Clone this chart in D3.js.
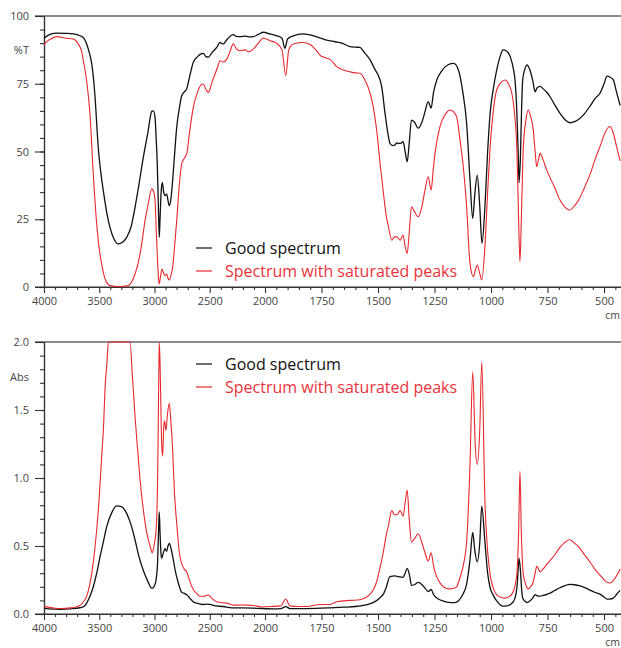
<!DOCTYPE html>
<html>
<head>
<meta charset="utf-8">
<script src="https://cdn.jsdelivr.net/npm/d3@7"></script>
<style>
  body { margin: 0; background: #fff; }
  svg text { font-family: "Open Sans", "Noto Sans", sans-serif; }
</style>
</head>
<body>
<div id="chart"></div>
<script>
// wavenumber (cm-1), %T
var goodT = [
  [4000,91.8],[3991,92.1],[3940,93.3],[3885,93.7],[3800,93.6],[3735,93.4],[3674,92.7],[3640,91.8],
  [3614,89.7],[3590,86.5],[3568,82.3],[3550,76],[3538,70],[3509,51.5],[3485,42],[3463,35.5],
  [3430,27],[3403,22],[3370,18],[3327,15.9],[3290,16.5],[3252,18.3],[3210,22.5],[3176,29.4],
  [3140,38],[3101,47.9],[3060,57],[3025,64.8],[3010,65],[2995,62.6],[2985,55],[2975,45.4],
  [2965,30],[2957,18.3],[2950,25],[2940,35],[2929,38.6],[2917,35],[2905,33.7],[2890,34.3],
  [2878,32],[2866,30],[2850,33],[2836,39.2],[2820,48],[2799,58.9],[2775,66],[2754,70.6],
  [2730,72],[2709,73.1],[2680,78],[2649,82.9],[2610,85],[2580,86],[2558,86.2],[2535,85],
  [2513,84.8],[2480,86.5],[2437,88.4],[2407,90.3],[2390,89.8],[2377,89.7],[2340,91.5],[2287,93.1],
  [2260,92.5],[2226,92.4],[2180,92.6],[2150,92.3],[2106,92.4],[2060,93.2],[2015,94],[1978,93.4],
  [1948,92.7],[1925,91.8],[1912,88.1],[1900,91.5],[1875,92.7],[1831,93.4],[1800,93],[1760,92],
  [1727,91.1],[1690,90.5],[1660,90],[1624,88.7],[1600,88.5],[1580,88.4],[1560,86.5],[1535,83.8],
  [1515,80.5],[1491,76.4],[1484,74],[1469,64.1],[1455,56],[1447,53],[1435,52.2],[1425,52.4],
  [1417,53.2],[1410,53],[1400,53],[1389,53.6],[1380,50],[1371,46.2],[1362,53],[1352,61.6],
  [1340,61],[1322,58.6],[1305,61],[1292,64.7],[1278,68.4],[1265,66],[1255,71.5],[1240,76.4],
  [1220,79.5],[1190,82],[1165,82.5],[1144,80],[1125,72],[1108,60.4],[1093,39.5],[1081,25.3],
  [1072,34],[1061,41.3],[1050,30],[1040,16.1],[1027,29.6],[1015,50],[1004,64.1],[990,73],
  [975,80],[960,85],[947,87.5],[930,87],[915,85],[900,80],[894,76.4],[886,65],[880,50],
  [876,38.5],[870,48],[865,65],[860,76.4],[850,80.5],[841,82],[830,80.5],[815,76],[805,72],
  [796,73.5],[783,74],[770,73.2],[750,71.5],[739,70.2],[720,67.5],[695,64.1],[670,61.5],
  [650,60.6],[630,61],[610,62],[591,63.5],[560,67],[540,69.5],[518,71.5],[500,75],[487,77.8],
  [475,77.5],[459,76.4],[445,72],[429,67]
];

var saturatedT = [
  [4000,89.3],[3991,89.9],[3940,91.5],[3885,92.4],[3800,91.8],[3735,91.5],[3690,89.7],[3660,87],
  [3644,83.5],[3614,76.1],[3584,63.8],[3554,41.7],[3523,23.2],[3500,14],[3478,8.5],[3455,4],
  [3433,1.7],[3400,0.5],[3342,0.2],[3280,0.3],[3237,0.5],[3205,2],[3176,4.8],[3150,8.5],
  [3131,12.2],[3110,17.5],[3086,24.5],[3055,31],[3025,36.2],[3010,35.5],[2995,31.9],[2985,22],
  [2975,12.2],[2965,4],[2957,1.1],[2945,4],[2932,6.6],[2918,5],[2905,4.2],[2890,4.8],
  [2876,3],[2866,2.6],[2850,4.5],[2836,7.3],[2820,14],[2799,24.5],[2775,38],[2754,45.4],
  [2730,47.5],[2709,49.1],[2680,58],[2649,66.3],[2610,72],[2580,74.5],[2558,74.9],[2535,73],
  [2513,71.8],[2480,75.5],[2452,78.6],[2430,81],[2407,83.5],[2380,83],[2346,84.1],[2320,86.5],
  [2287,89.7],[2260,88],[2226,87.2],[2180,87.5],[2150,86.8],[2106,87.8],[2060,90],[2015,91.9],
  [1978,90.9],[1948,89.9],[1925,87.5],[1908,78],[1895,87.5],[1875,89.7],[1831,90.2],[1800,89.5],
  [1775,87.5],[1757,85.6],[1730,84.5],[1712,84],[1683,81.3],[1650,80],[1624,79.4],[1600,79],
  [1580,78.9],[1558,76.4],[1535,71.5],[1520,66],[1506,57.9],[1490,45],[1476,34.6],[1465,27],
  [1454,22.3],[1439,17.3],[1428,18.5],[1417,18.5],[1402,17.3],[1389,19.2],[1380,15],[1371,12.4],
  [1362,20],[1352,29.6],[1340,28],[1322,25.9],[1305,30],[1292,35.8],[1278,40.7],[1265,35.8],
  [1255,44],[1248,49.3],[1226,59.2],[1200,64],[1181,65.3],[1165,64.5],[1152,62.8],[1137,54.2],
  [1120,42],[1108,29.6],[1093,8.7],[1078,3.8],[1070,6],[1061,8.1],[1050,5],[1041,2.6],
  [1027,14.9],[1015,35],[1004,51.8],[990,65],[975,72.7],[955,75.5],[938,76.4],[920,74.5],
  [908,71.5],[895,63],[886,51.8],[878,25],[872,9.3],[866,25],[857,51.8],[845,62],[835,65.3],
  [825,63],[813,57.9],[805,50],[798,44.4],[790,47],[783,49.3],[770,47],[754,43.2],[720,37],
  [695,32.1],[670,29.2],[653,28.4],[630,30],[610,32.5],[591,35.8],[560,42],[540,47],[518,51.8],
  [495,57],[480,59],[473,59.2],[460,57],[445,52],[429,46.5]
];

// wavenumber (cm-1), absorbance
var goodAbs = [
  [4000,0.045],[3991,0.042],[3900,0.036],[3855,0.035],[3760,0.038],[3674,0.046],[3640,0.055],
  [3614,0.08],[3584,0.13],[3554,0.2],[3523,0.3],[3493,0.42],[3463,0.53],[3433,0.64],[3390,0.74],
  [3340,0.795],[3300,0.79],[3252,0.74],[3210,0.65],[3176,0.544],[3140,0.42],[3101,0.32],
  [3060,0.24],[3025,0.19],[3016,0.19],[3000,0.21],[2986,0.25],[2972,0.38],[2962,0.65],
  [2957,0.75],[2950,0.6],[2940,0.43],[2935,0.41],[2920,0.45],[2905,0.48],[2890,0.46],
  [2878,0.5],[2866,0.52],[2850,0.48],[2830,0.4],[2810,0.31],[2785,0.23],[2754,0.16],
  [2724,0.15],[2700,0.135],[2679,0.115],[2650,0.09],[2618,0.08],[2570,0.07],[2520,0.072],
  [2498,0.07],[2450,0.06],[2377,0.055],[2300,0.045],[2200,0.045],[2075,0.042],[1960,0.038],
  [1930,0.04],[1908,0.054],[1890,0.04],[1816,0.04],[1712,0.045],[1650,0.05],[1600,0.055],
  [1560,0.065],[1520,0.085],[1491,0.12],[1475,0.15],[1465,0.19],[1447,0.275],[1425,0.28],
  [1410,0.275],[1389,0.27],[1380,0.3],[1371,0.335],[1360,0.28],[1352,0.21],[1340,0.215],
  [1322,0.232],[1305,0.215],[1292,0.19],[1278,0.165],[1265,0.18],[1255,0.145],[1240,0.117],
  [1220,0.1],[1190,0.086],[1160,0.084],[1144,0.097],[1125,0.143],[1108,0.22],[1093,0.4],
  [1081,0.6],[1072,0.47],[1061,0.384],[1050,0.52],[1041,0.793],[1027,0.53],[1015,0.3],
  [1004,0.193],[990,0.137],[975,0.097],[947,0.058],[930,0.06],[910,0.075],[894,0.117],
  [884,0.22],[876,0.41],[870,0.32],[865,0.19],[860,0.117],[850,0.094],[841,0.086],[830,0.094],
  [815,0.119],[805,0.143],[796,0.134],[783,0.131],[770,0.136],[750,0.146],[739,0.154],
  [720,0.171],[695,0.193],[670,0.211],[650,0.218],[630,0.215],[610,0.208],[591,0.197],
  [560,0.174],[540,0.158],[518,0.146],[500,0.125],[487,0.109],[475,0.11],[459,0.117],
  [445,0.143],[429,0.174]
];

var saturatedAbs = [
  [4000,0.055],[3991,0.054],[3900,0.042],[3855,0.04],[3760,0.045],[3704,0.054],[3670,0.065],
  [3644,0.09],[3614,0.13],[3584,0.225],[3554,0.38],[3523,0.62],[3500,0.86],[3478,1.16],
  [3460,1.4],[3448,1.65],[3430,1.85],[3418,2.0],[3222,2.0],[3200,1.75],[3176,1.45],[3150,1.18],
  [3131,0.99],[3100,0.76],[3071,0.6],[3040,0.5],[3020,0.45],[3005,0.5],[2990,0.58],[2980,0.7],
  [2970,1.1],[2962,1.7],[2957,2.0],[2950,1.85],[2944,1.6],[2935,1.25],[2926,1.16],[2918,1.35],
  [2910,1.42],[2905,1.4],[2896,1.35],[2885,1.45],[2866,1.55],[2855,1.45],[2836,1.21],
  [2820,0.9],[2799,0.67],[2775,0.45],[2754,0.37],[2730,0.33],[2709,0.31],[2680,0.24],
  [2649,0.18],[2610,0.145],[2588,0.13],[2558,0.13],[2535,0.135],[2513,0.14],[2480,0.115],
  [2437,0.09],[2400,0.085],[2346,0.08],[2287,0.065],[2226,0.066],[2150,0.065],[2106,0.063],
  [2030,0.052],[1970,0.055],[1930,0.06],[1908,0.11],[1890,0.06],[1850,0.055],[1816,0.055],
  [1757,0.07],[1712,0.07],[1683,0.09],[1624,0.1],[1580,0.105],[1558,0.117],[1535,0.146],
  [1520,0.18],[1506,0.237],[1490,0.35],[1476,0.46],[1465,0.57],[1454,0.65],[1439,0.76],
  [1428,0.73],[1417,0.73],[1402,0.76],[1389,0.72],[1380,0.82],[1371,0.91],[1362,0.7],
  [1352,0.53],[1340,0.55],[1322,0.59],[1305,0.52],[1292,0.45],[1278,0.39],[1265,0.45],
  [1255,0.36],[1248,0.31],[1226,0.23],[1200,0.19],[1181,0.185],[1165,0.19],[1152,0.2],
  [1137,0.27],[1120,0.38],[1108,0.53],[1093,1.1],[1081,1.78],[1070,1.25],[1061,1.1],
  [1050,1.35],[1041,1.85],[1027,0.83],[1015,0.46],[1004,0.29],[990,0.19],[975,0.14],
  [955,0.122],[938,0.117],[920,0.128],[908,0.146],[895,0.2],[886,0.29],[878,0.6],[872,1.05],
  [866,0.6],[857,0.29],[845,0.21],[835,0.185],[825,0.2],[813,0.237],[805,0.3],[798,0.35],
  [790,0.33],[783,0.31],[770,0.33],[754,0.365],[720,0.43],[695,0.49],[670,0.53],[653,0.546],
  [630,0.52],[610,0.49],[591,0.446],[560,0.377],[540,0.328],[518,0.286],[495,0.244],
  [480,0.23],[473,0.228],[460,0.244],[445,0.28],[429,0.33]
];

var xMajorLeft = [4000, 3500, 3000, 2500];
var xMajorRight = [2000, 1750, 1500, 1250, 1000, 750, 500];
var tTicks = [0, 25, 50, 75, 100];
var absTicks = [0, 0.5, 1.0, 1.5, 2.0];
var seriesNames = ["Good spectrum", "Spectrum with saturated peaks"];
var seriesColors = ["#111111", "#e8282d"];

var W = 621, H = 648;
var svg = d3.select("#chart").append("svg")
    .attr("width", W)
    .attr("height", H);

// the wavenumber axis changes scale at 2000 cm-1
var x = d3.scaleLinear()
    .domain([4000, 2000, 425])
    .range([44, 265, 621]);

var xMinor = d3.range(4000, 2000, -100).concat(d3.range(2000, 420, -50))
    .filter(function(v) { return xMajorLeft.concat(xMajorRight).indexOf(v) < 0; });

function drawPanel(opt) {
    var y = d3.scaleLinear().domain(opt.domain).range([opt.bottom, opt.top]);
    var g = svg.append("g");

    // top frame line
    g.append("line")
        .attr("x1", 35).attr("x2", W)
        .attr("y1", opt.top).attr("y2", opt.top)
        .attr("stroke", "#666").attr("stroke-width", 1.3);

    // y axis
    var yMinor = d3.range(opt.domain[0], opt.domain[1] + 1e-9, opt.minorStep);
    g.append("g")
        .attr("transform", "translate(44,0)")
        .call(d3.axisLeft(y).tickValues(yMinor).tickSize(4).tickSizeOuter(0).tickFormat(""))
        .call(styleAxis);
    g.append("g")
        .attr("transform", "translate(44,0)")
        .call(d3.axisLeft(y).tickValues(opt.yTicks).tickSize(9).tickSizeOuter(0).tickPadding(6)
            .tickFormat(opt.fmt))
        .call(styleAxis)
        .selectAll("text").attr("x", -15);

    g.append("text")
        .attr("x", 29).attr("y", opt.unitY)
        .attr("text-anchor", "end")
        .attr("font-size", "11px")
        .attr("fill", "#444")
        .text(opt.unit);

    // x axis
    g.append("g")
        .attr("transform", "translate(0," + opt.bottom + ")")
        .call(d3.axisBottom(x).tickValues(xMinor).tickSize(3).tickSizeOuter(0).tickFormat(""))
        .call(styleAxis);
    g.append("g")
        .attr("transform", "translate(0," + opt.bottom + ")")
        .call(d3.axisBottom(x).tickValues(xMajorLeft.concat(xMajorRight)).tickSize(6)
            .tickSizeOuter(0).tickPadding(4).tickFormat(d3.format("d")))
        .call(styleAxis);
    g.append("line")
        .attr("x1", 35).attr("x2", W)
        .attr("y1", opt.bottom).attr("y2", opt.bottom)
        .attr("stroke", "#333").attr("stroke-width", 1.2);

    g.append("text")
        .attr("x", 620).attr("y", opt.bottom + 32)
        .attr("text-anchor", "end")
        .attr("font-size", "10.5px")
        .attr("fill", "#444")
        .text("cm");

    var line = d3.line()
        .x(function(d) { return x(d[0]); })
        .y(function(d) { return y(d[1]); })
        .curve(d3.curveMonotoneX);

    opt.series.forEach(function(s, i) {
        g.append("path")
            .datum(s)
            .attr("fill", "none")
            .attr("stroke", seriesColors[i])
            .attr("stroke-width", i == 0 ? 1.3 : 1.1)
            .attr("stroke-linejoin", "round")
            .attr("d", line);
    });

    // legend
    seriesNames.forEach(function(name, i) {
        var ly = opt.legendY + i * 23;
        g.append("line")
            .attr("x1", 196).attr("x2", 212)
            .attr("y1", ly).attr("y2", ly)
            .attr("stroke", seriesColors[i]).attr("stroke-width", 1.2);
        g.append("text")
            .attr("x", 225).attr("y", ly + 6)
            .attr("font-size", "16px")
            .attr("fill", i == 0 ? "#111" : "#e8343a")
            .text(name);
    });
}

function styleAxis(sel) {
    sel.select(".domain").attr("stroke", "#333").attr("stroke-width", 1.2);
    sel.selectAll(".tick line").attr("stroke", "#333").attr("stroke-width", 1.1);
    sel.selectAll(".tick text")
        .attr("font-family", "Open Sans, Noto Sans, sans-serif")
        .attr("font-size", "11px")
        .attr("fill", "#444");
}

drawPanel({
    domain: [0, 100], top: 16, bottom: 287, minorStep: 5,
    yTicks: tTicks, fmt: d3.format("d"), unit: "%T", unitY: 54,
    series: [goodT, saturatedT], legendY: 248
});

drawPanel({
    domain: [0, 2], top: 342, bottom: 614, minorStep: 0.1,
    yTicks: absTicks, fmt: d3.format(".1f"), unit: "Abs", unitY: 381,
    series: [goodAbs, saturatedAbs], legendY: 364
});
</script>
</body>
</html>
